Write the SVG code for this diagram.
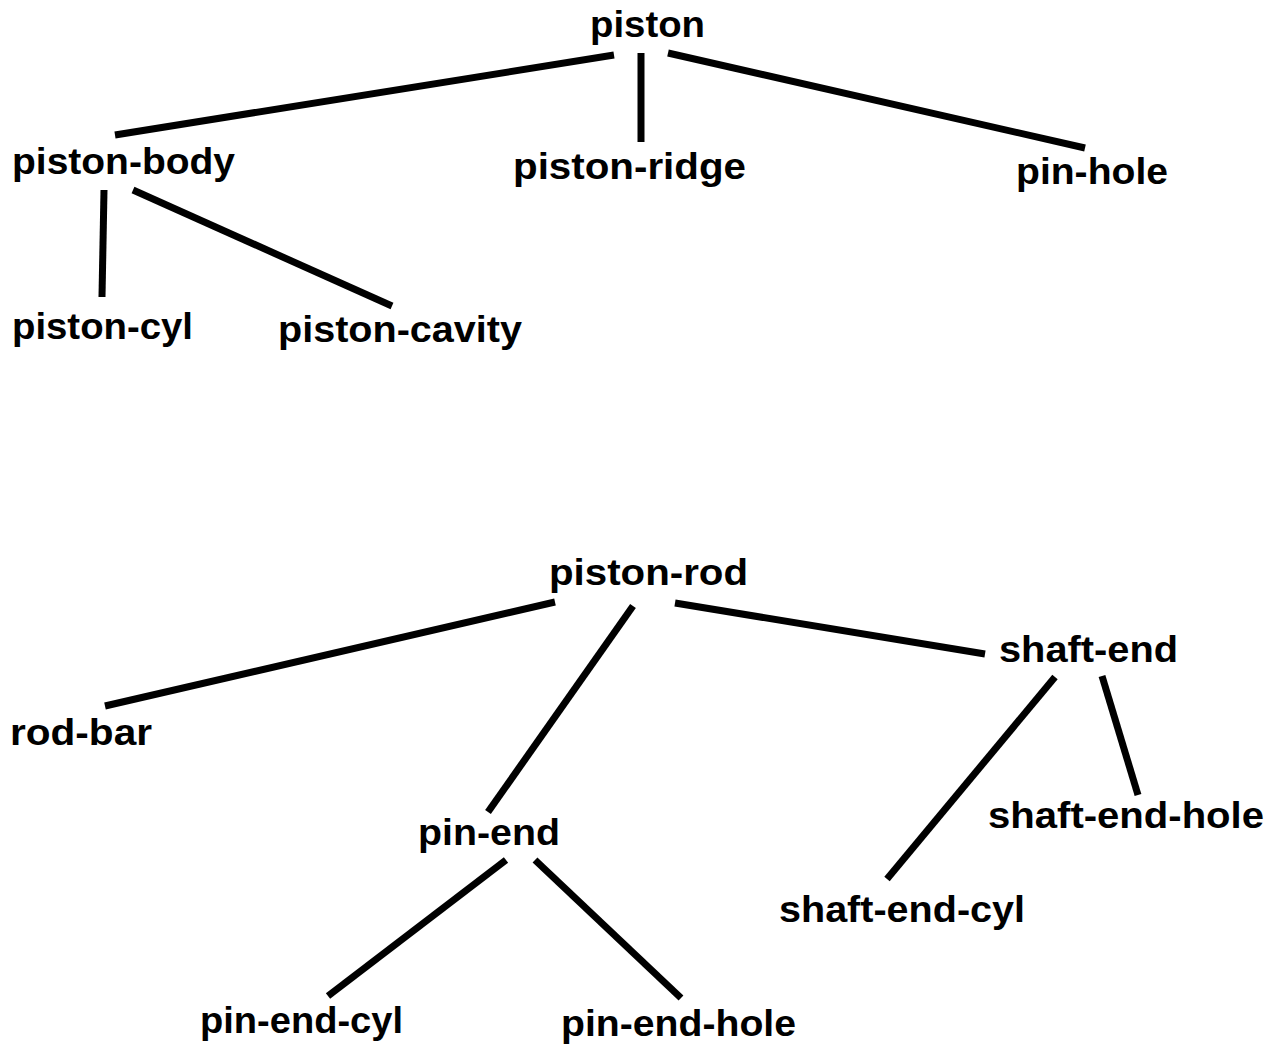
<svg xmlns="http://www.w3.org/2000/svg" width="1280" height="1046" viewBox="0 0 1280 1046">
<style>
text{font-family:"Liberation Sans",Arial,sans-serif;font-weight:bold;font-size:37px;fill:#000}
.e{stroke:#000;stroke-width:7;stroke-linecap:butt;fill:none}
</style>
<rect width="1280" height="1046" fill="#fff"/>
<g id="connectors">
<line class="e" x1="614" y1="55" x2="115" y2="135"/>
<line class="e" x1="641" y1="53" x2="641" y2="142"/>
<line class="e" x1="668" y1="53" x2="1085" y2="148"/>
<line class="e" x1="104" y1="190" x2="102" y2="297"/>
<line class="e" x1="133" y1="190" x2="392" y2="306"/>
<line class="e" x1="555" y1="602" x2="105" y2="706"/>
<line class="e" x1="633" y1="606" x2="488" y2="812"/>
<line class="e" x1="675" y1="603" x2="985" y2="654"/>
<line class="e" x1="1055" y1="677" x2="887" y2="879"/>
<line class="e" x1="1102" y1="676" x2="1138" y2="795"/>
<line class="e" x1="506" y1="860" x2="328" y2="996"/>
<line class="e" x1="535" y1="860" x2="681" y2="998"/>
</g>
<g id="piston"><text x="590" y="37" textLength="115" lengthAdjust="spacingAndGlyphs">piston</text></g>
<g id="piston-body"><text x="12" y="174" textLength="223" lengthAdjust="spacingAndGlyphs">piston-body</text></g>
<g id="piston-ridge"><text x="513" y="179" textLength="233" lengthAdjust="spacingAndGlyphs">piston-ridge</text></g>
<g id="pin-hole"><text x="1016" y="184" textLength="152" lengthAdjust="spacingAndGlyphs">pin-hole</text></g>
<g id="piston-cyl"><text x="12" y="339" textLength="181" lengthAdjust="spacingAndGlyphs">piston-cyl</text></g>
<g id="piston-cavity"><text x="278" y="342" textLength="244" lengthAdjust="spacingAndGlyphs">piston-cavity</text></g>
<g id="piston-rod"><text x="549" y="585" textLength="199" lengthAdjust="spacingAndGlyphs">piston-rod</text></g>
<g id="shaft-end"><text x="999" y="662" textLength="179" lengthAdjust="spacingAndGlyphs">shaft-end</text></g>
<g id="rod-bar"><text x="10" y="745" textLength="142" lengthAdjust="spacingAndGlyphs">rod-bar</text></g>
<g id="shaft-end-hole"><text x="988" y="828" textLength="276" lengthAdjust="spacingAndGlyphs">shaft-end-hole</text></g>
<g id="pin-end"><text x="418" y="845" textLength="142" lengthAdjust="spacingAndGlyphs">pin-end</text></g>
<g id="shaft-end-cyl"><text x="779" y="922" textLength="246" lengthAdjust="spacingAndGlyphs">shaft-end-cyl</text></g>
<g id="pin-end-cyl"><text x="200" y="1033" textLength="203" lengthAdjust="spacingAndGlyphs">pin-end-cyl</text></g>
<g id="pin-end-hole"><text x="561" y="1036" textLength="235" lengthAdjust="spacingAndGlyphs">pin-end-hole</text></g>
</svg>
